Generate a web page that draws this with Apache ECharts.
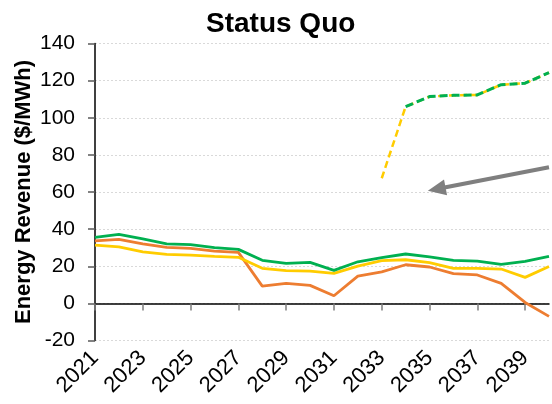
<!DOCTYPE html>
<html>
<head>
<meta charset="utf-8">
<script src="https://cdn.jsdelivr.net/npm/echarts@6/dist/echarts.min.js"></script>
<style>
  html, body { margin: 0; padding: 0; background: #fff; }
  #chart { width: 552px; height: 404px; }
</style>
</head>
<body>
<div id="chart"></div>
<script>
// Years on the horizontal axis
const years = ['2021','2022','2023','2024','2025','2026','2027','2028','2029','2030',
               '2031','2032','2033','2034','2035','2036','2037','2038','2039','2040'];

// Energy revenue ($/MWh) by year
const greenSolid  = [35.6, 37.2, 34.7, 32.0, 31.6, 30.0, 29.1, 23.2, 21.6, 22.1,
                     17.8, 22.4, 24.6, 26.6, 25.1, 23.2, 22.8, 21.0, 22.6, 25.3];
const orangeSolid = [33.7, 34.5, 32.1, 30.2, 29.6, 28.2, 27.5, 9.3, 10.8, 9.7,
                     4.1, 14.7, 17.0, 20.8, 19.6, 16.0, 15.3, 10.8, 0.5, -7.0];
const yellowSolid = [31.4, 30.4, 27.8, 26.4, 26.0, 25.3, 24.8, 18.9, 17.6, 17.4,
                     16.2, 20.1, 23.0, 23.5, 21.9, 18.9, 18.9, 18.5, 14.0, 19.9];
const yellowDashed = [null, null, null, null, null, null, null, null, null, null,
                      null, null, 67.4, 106.0, 111.4, 112.1, 112.3, 117.8, 118.6, 124.3];
const greenDashed  = [null, null, null, null, null, null, null, null, null, null,
                      null, null, null, 106.0, 111.4, 112.1, 112.3, 117.8, 118.6, 124.3];

// Annotation arrow: [year index, value] for tail and head (head = centre of the arrowhead)
const arrowTail = [19, 73.3];
const arrowHead = [14.3, 61.6];

const FONT = 'Liberation Sans, Arial, sans-serif';
const chart = echarts.init(document.getElementById('chart'), null, { renderer: 'canvas' });

function lineSeries(data, color, width, dash, z) {
  return {
    type: 'line',
    data: data,
    xAxisIndex: 0,
    yAxisIndex: 0,
    showSymbol: false,
    symbol: 'none',
    connectNulls: false,
    z: z,
    lineStyle: { color: color, width: width, type: dash || 'solid', cap: 'butt' },
    emphasis: { disabled: true },
    animation: false
  };
}

chart.setOption({
  animation: false,
  title: {
    text: 'Status Quo',
    left: 201,
    top: 5,
    textStyle: { fontFamily: FONT, fontSize: 28, fontWeight: 'bold', color: '#000' }
  },
  grid: { left: 95, right: 3, top: 43.5, bottom: 63.5, containLabel: false },
  xAxis: [
    {
      type: 'category',
      data: years,
      boundaryGap: false,
      axisLine: { show: true, onZero: true, lineStyle: { color: '#000', width: 1.5 } },
      axisTick: { show: true, interval: 1, length: 7, lineStyle: { color: '#7f7f7f', width: 1.5 } },
      axisLabel: { show: false },
      splitLine: { show: false }
    },
    {
      type: 'category',
      data: years,
      boundaryGap: false,
      position: 'bottom',
      axisLine: { show: false, onZero: false },
      axisTick: { show: false },
      axisLabel: {
        show: true, interval: 1, rotate: 45, margin: 14,
        fontFamily: FONT, fontSize: 22, color: '#000'
      },
      splitLine: { show: false }
    },
    {
      type: 'value',
      min: 0,
      max: 19,
      show: false
    }
  ],
  yAxis: {
    type: 'value',
    min: -20,
    max: 140,
    interval: 20,
    name: 'Energy Revenue ($/MWh)',
    nameLocation: 'middle',
    nameGap: 60,
    nameMoveOverlap: false,
    nameTextStyle: { fontFamily: FONT, fontSize: 22, fontWeight: 'bold', color: '#000' },
    axisLine: { show: true, onZero: false, lineStyle: { color: '#000', width: 1.5 } },
    axisTick: { show: true, length: 7, lineStyle: { color: '#595959', width: 1.5 } },
    axisLabel: { margin: 20, fontFamily: FONT, fontSize: 21, color: '#000' },
    splitLine: { show: true, lineStyle: { color: '#d9d9d9', width: 1, type: [2, 2] } }
  },
  series: [
    lineSeries(orangeSolid, '#ED7D31', 2.8, null, 3),
    lineSeries(yellowSolid, '#FFCC00', 2.8, null, 4),
    lineSeries(greenSolid, '#00B050', 2.8, null, 5),
    lineSeries(yellowDashed, '#FFCC00', 2.5, [7, 4], 6),
    lineSeries(greenDashed, '#00B050', 3, [8, 4], 7),
    {
      type: 'line',
      xAxisIndex: 2,
      yAxisIndex: 0,
      data: [],
      z: 8,
      animation: false,
      markLine: {
        silent: true,
        symbol: ['none', 'triangle'],
        symbolSize: [16, 18],
        label: { show: false },
        lineStyle: { color: '#7f7f7f', width: 4, type: 'solid' },
        emphasis: { disabled: true },
        data: [[{ coord: arrowTail }, { coord: arrowHead }]]
      }
    }
  ]
});
</script>
</body>
</html>
